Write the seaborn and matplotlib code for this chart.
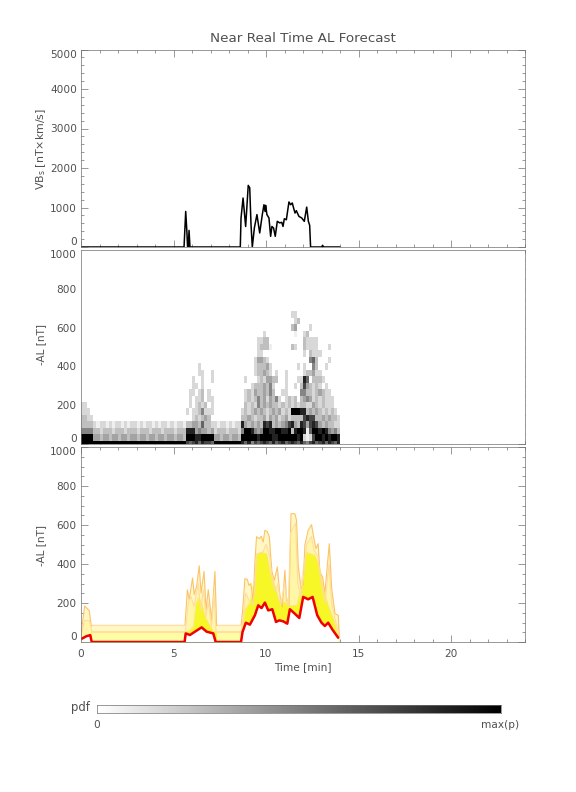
import numpy as np
import pandas as pd
import seaborn as sns
import matplotlib.pyplot as plt

# solar wind driver, top panel
vb_time = [0, 5.57, 5.66, 5.73, 5.76, 5.80, 5.84, 5.89, 8.61, 8.65, 8.76, 8.90, 9.04, 9.12, 9.19, 9.26, 9.37,
           9.51, 9.66, 9.80, 9.89, 9.95, 9.98, 10.05, 10.16, 10.25, 10.32, 10.41, 10.50, 10.61, 10.74, 10.85,
           10.92, 10.99, 11.10, 11.24, 11.33, 11.42, 11.49, 11.57, 11.64, 11.78, 11.93, 12.07, 12.20, 12.29,
           12.36, 12.41, 13.0, 13.06, 13.12, 14.0]
vb_value = [0, 0, 900, 330, 0, 0, 420, 0, 0, 730, 1240, 520, 1560, 1500, 565, 0, 480,
            820, 355, 820, 1070, 900, 1055, 820, 735, 270, 520, 480, 270, 650, 610, 625,
            520, 715, 690, 1140, 1070, 1115, 990, 860, 920, 775, 735, 650, 1010, 650,
            550, 0, 0, 40, 0, 0]

# median of the forecast
red_time = [0, 0.1, 0.3, 0.5, 0.58, 5.60, 5.66, 5.89, 6.16, 6.52, 6.79, 7.15, 7.28, 8.65, 8.73, 8.91, 9.13, 9.40,
            9.58, 9.76, 9.94, 10.12, 10.34, 10.54, 10.72, 10.93, 11.15, 11.29, 11.56, 11.80, 12.01, 12.28,
            12.52, 12.77, 13.0, 13.18, 13.36, 13.58, 13.9]
red_value = [15, 20, 30, 35, 0, 0, 44, 36, 53, 75, 53, 44, 0, 0, 51, 99, 89, 137,
             188, 174, 202, 162, 168, 103, 111, 106, 94, 168, 145, 123, 231, 219,
             231, 137, 99, 82, 99, 65, 22]

# inner quantile, edge of the bright yellow
inner_time = [0, 0.3, 0.5, 0.6, 5.62, 5.80, 6.07, 6.21, 6.34, 6.52, 6.70, 6.94, 7.15, 7.30, 8.65, 8.73, 8.86, 9.13,
              9.40, 9.49, 9.75, 10.03, 10.21, 10.48, 10.72, 11.02, 11.29, 11.65, 11.83, 12.10, 12.19, 12.64,
              12.91, 13.09, 13.36, 13.63, 13.9]
inner_value = [15, 30, 40, 52, 52, 55, 80, 200, 226, 200, 131, 89, 55, 52, 52, 70, 170, 205,
               340, 453, 460, 453, 360, 290, 205, 205, 188, 188, 256, 427, 460, 445,
               376, 273, 188, 120, 34]

# middle quantile, pale orange edge
mid_time = [0, 0.2, 0.45, 0.6, 5.62, 5.67, 5.80, 5.94, 6.11, 6.21, 6.34, 6.47, 6.61, 6.76, 6.88, 7.06, 7.19, 7.30,
            8.65, 8.74, 8.9, 9.1, 9.3, 9.4, 9.5, 9.7, 9.85, 10.0, 10.2, 10.35, 10.5, 10.65, 10.8, 11.0, 11.2,
            11.33, 11.6, 11.72, 11.9, 12.05, 12.2, 12.45, 12.6, 12.8, 13.0, 13.2, 13.4, 13.55, 13.75, 13.95]
mid_value = [30, 110, 110, 52, 52, 80, 200, 234, 183, 234, 303, 160, 268, 131, 200, 80, 251, 52,
             52, 100, 250, 210, 190, 280, 450, 455, 465, 500, 440, 300, 260, 300, 190, 300, 180,
             560, 610, 300, 230, 350, 500, 540, 470, 440, 290, 200, 400, 200, 110, 40]

# outer quantile, orange edge
outer_time = [0, 0.2, 0.45, 0.55, 0.62, 5.62, 5.75, 5.85, 6.03, 6.12, 6.25, 6.39, 6.49, 6.65, 6.76, 6.88, 7.06,
              7.24, 7.33, 8.65, 8.73, 8.86, 8.99, 9.08, 9.18, 9.31, 9.40, 9.49, 9.64, 9.74, 9.85, 9.94, 10.07,
              10.18, 10.25, 10.32, 10.45, 10.61, 10.75, 10.88, 11.02, 11.11, 11.24, 11.35, 11.56, 11.65, 11.74,
              11.89, 12.01, 12.10, 12.28, 12.46, 12.59, 12.70, 12.82, 12.91, 13.06, 13.18, 13.42, 13.55, 13.73,
              13.91, 13.96]
outer_value = [45, 185, 160, 82, 85, 85, 268, 217, 328, 243, 285, 391, 251, 362, 166, 268, 114,
               362, 85, 85, 154, 325, 321, 290, 300, 205, 410, 540, 530, 542, 513, 573, 566,
               540, 445, 360, 316, 385, 240, 180, 368, 214, 188, 658, 658, 624, 393,
               274, 291, 496, 573, 602, 530, 479, 504, 359, 333, 248, 504, 274, 145,
               137, 25]

quiet_start = [0.62, 7.33]
quiet_stop = [5.62, 8.65]
quiet_levels = [52, 85]

# pdf cells: row is the -AL bin (33 nT wide), runs are (first column, shades 0-9), one column is 10 s
n_rows = 31
n_cols = 144
al_bin = 1000 / 30
quiet_cols = list(range(4, 34)) + list(range(43, 52))
quiet_shade = {0: 9, 1: [4, 4, 3, 4, 4, 3], 2: [3, 3, 2, 3], 3: [2, 1, 2, 2, 1]}
pdf_runs = {
    0: [(0, '9999'), (34, '767868776'), (52, '86857678'), (60, '76867867'), (68, '87686578'), (76, '67868768')],
    1: [(0, '9999'), (34, '999889999'), (52, '99999899'), (60, '99889999'), (68, '99892127'), (76, '99898998')],
    2: [(0, '5555'), (34, '888454434'), (52, '59985459'), (60, '98899889'), (68, '38998169'), (76, '98985453')],
    3: [(0, '3333'), (34, '334436332'), (52, '84343438'), (60, '78343457'), (68, '84387478'), (76, '74343322')],
    4: [(0, '3322'), (36, '232343'), (52, '3343233424342342'), (68, '3333'), (72, '7877'), (76, '33434332')],
    5: [(0, '222'), (34, '2'), (36, '22352'), (41, '22'), (52, '2323434323434232'), (68, '999'), (71, '88'),
        (73, '3434323232')],
    6: [(0, '22'), (35, '2'), (37, '232'), (40, '3'), (42, '2'), (53, '3232534343323'), (66, '23232'),
        (71, '3322432322'), (81, '2')],
    7: [(35, '2'), (37, '2'), (38, '23'), (41, '22'), (53, '232353424352'), (66, '2323'), (71, '34542323222')],
    8: [(35, '2'), (36, '2'), (38, '23'), (41, '2'), (53, '2324334353'), (65, '22'), (71, '5533234322')],
    9: [(36, '22'), (39, '2'), (55, '2333435'), (62, '2'), (66, '2'), (69, '2'), (71, '3743232'), (79, '2')],
    10: [(36, '2'), (39, '2'), (42, '2'), (53, '2'), (57, '2324433'), (66, '2'), (70, '22'), (72, '86'),
         (75, '3332')],
    11: [(38, '2'), (39, '2'), (42, '2'), (56, '233432'), (63, '2'), (66, '2'), (72, '233422')],
    12: [(38, '2'), (56, '233342'), (70, '2'), (72, '2'), (75, '53'), (79, '2')],
    13: [(56, '24432'), (74, '563'), (80, '2')],
    14: [(57, '22'), (72, '2'), (74, '3222')],
    15: [(57, '23331'), (68, '32'), (72, '3222'), (76, '2'), (80, '2')],
    16: [(57, '2233'), (72, '32222')],
    17: [(59, '2'), (69, '1'), (72, '23')],
    18: [(68, '34'), (74, '2')],
    19: [(69, '23')],
    20: [(68, '22')],
}

colorbar_steps = 200

time_major = [0, 5, 10, 15, 20]
time_minor = list(range(0, 25))
vb_ticks = [0, 1000, 2000, 3000, 4000, 5000]
al_ticks = [0, 200, 400, 600, 800, 1000]
ink = '#505050'
edge = '#707070'


def box(left, top, right, bottom):
    return [left / 576, 1 - bottom / 792, (right - left) / 576, (bottom - top) / 792]


def label(x, y, s, **kw):
    plt.gcf().text(x / 576, 1 - y / 792, s, color=ink, ha=kw.pop('ha', 'center'), va='center', **kw)


def frame(ax, ymajor, yminor, xscale=1, yfunc=lambda v: v):
    ax.set_xticks([t * xscale for t in time_major])
    ax.set_xticks([t * xscale for t in time_minor], minor=True)
    ax.set_yticks([yfunc(v) for v in ymajor])
    ax.set_yticks([yfunc(v) for v in yminor], minor=True)
    ax.set_yticklabels([str(v) for v in ymajor])
    ax.tick_params(which='major', direction='in', length=5, width=0.5, color=edge, top=True, right=True,
                   bottom=True, left=True, labelsize=7.6, labelcolor=ink, pad=3)
    ax.tick_params(which='minor', direction='in', length=2.5, width=0.5, color=edge, top=True, right=True,
                   bottom=True, left=True)
    ax.set_xlabel('')
    ax.set_ylabel('')
    for s in ax.spines.values():
        s.set_visible(True)
        s.set_linewidth(0.5)
        s.set_color(edge)
    ylabels = ax.get_yticklabels()
    ylabels[0].set_va('bottom')
    ylabels[-1].set_va('top')


def line(ax, x, y, color, lw, **kw):
    sns.lineplot(x=x, y=y, ax=ax, color=color, lw=lw, estimator=None, sort=False, **kw)


sns.set_theme(style='white')
plt.rcParams['mathtext.default'] = 'regular'
fig = plt.figure(figsize=(5.76, 7.92), dpi=100)

# top panel
ax1 = fig.add_axes(box(81, 49.5, 525, 247))
line(ax1, vb_time, vb_value, 'black', 1.1)
ax1.set_xlim(0, 24)
ax1.set_ylim(0, 5000)
frame(ax1, vb_ticks, list(range(0, 5001, 200)))
ax1.set_xticklabels([])

# pdf panel
cells = np.zeros((n_rows, n_cols))
for r, shade in quiet_shade.items():
    pattern = shade if isinstance(shade, list) else [shade]
    for i, c in enumerate(quiet_cols):
        cells[r, c] = pattern[i % len(pattern)]
for r, runs in pdf_runs.items():
    for first, digits in runs:
        for i, d in enumerate(digits):
            cells[r, first + i] = int(d)

ax2 = fig.add_axes(box(81, 250, 525, 444))
# light shades are paler than a straight scale would give
sns.heatmap(pd.DataFrame((cells / 9) ** 1.25), ax=ax2, cmap='gray_r', vmin=0, vmax=1, cbar=False,
            xticklabels=False, yticklabels=False)
ax2.set_xlim(0, n_cols)
ax2.set_ylim(0.5, 30.5)
frame(ax2, al_ticks, list(range(0, 1001, 50)), xscale=6, yfunc=lambda v: v / al_bin + 0.5)
ax2.set_xticklabels([])

# quantile panel
ax3 = fig.add_axes(box(81, 447, 525, 642))
ax3.fill_between(outer_time, 0, outer_value, color='#FFF7C4', lw=0)
ax3.fill_between(mid_time, 0, mid_value, color='#FFF6A8', lw=0)
ax3.fill_between(inner_time, 0, inner_value, color='#F7F728', lw=0)
ax3.fill_between([quiet_start[0], quiet_stop[0]], 0, quiet_levels[0], color='#FFFCA6', lw=0)
ax3.fill_between([quiet_start[1], quiet_stop[1]], 0, quiet_levels[0], color='#FFFCA6', lw=0)
ax3.fill_between(red_time, 0, red_value, color='white', lw=0)
line(ax3, outer_time, outer_value, '#FBC468', 0.8)
line(ax3, mid_time, mid_value, '#FFDDA0', 0.8)
line(ax3, inner_time, inner_value, '#FFE08A', 0.5)
ax3.hlines(quiet_levels, quiet_start[0], quiet_stop[0], color='#FFE0A0', lw=0.8)
ax3.hlines(quiet_levels, quiet_start[1], quiet_stop[1], color='#FFE0A0', lw=0.8)
line(ax3, red_time, red_value, '#F00000', 1.8)
ax3.set_xlim(0, 24)
ax3.set_ylim(0, 1000)
frame(ax3, al_ticks, list(range(0, 1001, 50)))
ax3.set_xticklabels([str(t) for t in time_major])
ax3.tick_params(axis='x', pad=5)

# colour scale
ax4 = fig.add_axes(box(97, 704.5, 501, 713))
sns.heatmap(pd.DataFrame([np.linspace(0, 1, colorbar_steps)]), ax=ax4, cmap='gray_r', vmin=0, vmax=1, cbar=False,
            xticklabels=False, yticklabels=False)
for s in ax4.spines.values():
    s.set_visible(True)
    s.set_linewidth(0.5)
    s.set_color(edge)
ax4.set_xticks([0, colorbar_steps])
ax4.set_xticklabels([])
ax4.set_yticks([])
ax4.tick_params(axis='x', direction='out', length=2, width=0.5, color=edge)

label(303, 39, 'Near Real Time AL Forecast', fontsize=9.7)
label(41, 149, 'VB$_s$ [nT×km/s]', fontsize=7.9, rotation=90)
label(41, 345, '-AL [nT]', fontsize=7.6, rotation=90)
label(41, 545, '-AL [nT]', fontsize=7.6, rotation=90)
label(303, 667, 'Time [min]', fontsize=7.6)
label(80, 708, 'pdf', fontsize=8.4)
label(97, 725, '0', fontsize=7.6)
label(500, 725, 'max(p)', fontsize=7.6)

fig.savefig('out.png', dpi=100)
